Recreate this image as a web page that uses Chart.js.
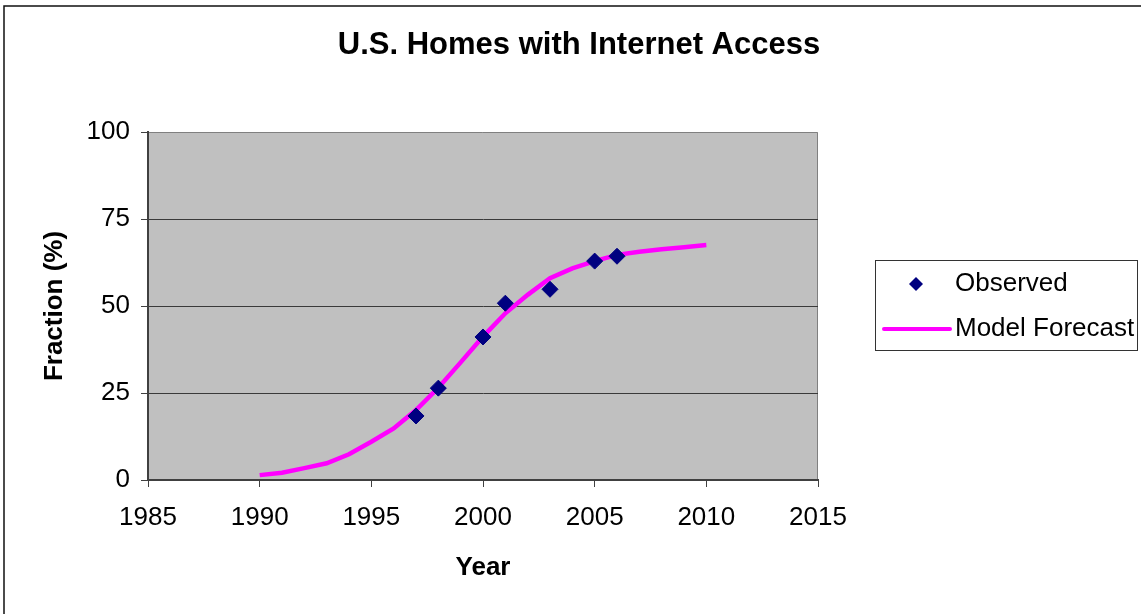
<!DOCTYPE html>
<html>
<head>
<meta charset="utf-8">
<title>U.S. Homes with Internet Access</title>
<script src="https://cdn.jsdelivr.net/npm/chart.js@4.4.0/dist/chart.umd.min.js"></script>
<style>
  body { margin: 0; background: #fff; }
  #wrap { position: relative; width: 1141px; height: 614px; }
</style>
</head>
<body>
<div id="wrap"><canvas id="myChart"></canvas></div>
<script>
  // data
  const forecastYears = [1990, 1991, 1992, 1993, 1994, 1995, 1996, 1997, 1998, 1999, 2000,
                         2001, 2002, 2003, 2004, 2005, 2006, 2007, 2008, 2009, 2010];
  const forecastValues = [1.4, 2.1, 3.4, 4.8, 7.4, 11.0, 14.8, 20.1, 26.5, 33.8, 41.2,
                          47.9, 53.2, 58.0, 60.8, 62.9, 64.7, 65.6, 66.3, 66.9, 67.5];
  const observedYears = [1997, 1998, 2000, 2001, 2003, 2005, 2006];
  const observedValues = [18.4, 26.4, 41.1, 50.8, 54.8, 62.9, 64.3];
  const seriesNames = ['Observed', 'Model Forecast'];
  const chartTitle = 'U.S. Homes with Internet Access';

  const FONT = "'Liberation Sans', Arial, sans-serif";

  function toPoints(xs, ys) {
    return xs.map((x, i) => ({ x: x, y: ys[i] }));
  }

  /* plot background, frame, title and legend box */
  const decorPlugin = {
    id: 'decor',
    beforeDraw(chart) {
      const ctx = chart.ctx;
      const a = chart.chartArea;
      ctx.save();
      ctx.fillStyle = '#c0c0c0';
      ctx.fillRect(a.left, a.top, a.right - a.left, a.bottom - a.top);
      ctx.strokeStyle = '#808080';
      ctx.lineWidth = 1;
      ctx.beginPath();
      ctx.moveTo(a.left, a.top + 0.5);
      ctx.lineTo(a.right - 0.5, a.top + 0.5);
      ctx.lineTo(a.right - 0.5, a.bottom);
      ctx.stroke();
      // outer frame of the chart object
      ctx.strokeStyle = '#111';
      ctx.lineWidth = 1.5;
      ctx.beginPath();
      ctx.moveTo(4, 614);
      ctx.lineTo(4, 6);
      ctx.lineTo(1141, 6);
      ctx.stroke();
      ctx.restore();
    },
    afterDraw(chart) {
      const ctx = chart.ctx;
      const ds = chart.data.datasets;
      ctx.save();
      // title, centred on the whole chart object
      ctx.font = 'bold 31px ' + FONT;
      ctx.fillStyle = '#000';
      ctx.textAlign = 'center';
      ctx.textBaseline = 'middle';
      ctx.fillText(chartTitle, 579, 45);

      ctx.strokeStyle = '#333';
      ctx.lineWidth = 1;
      ctx.strokeRect(875.5, 260.5, 262, 90);
      ctx.font = '26px ' + FONT;
      ctx.textAlign = 'left';
      // observed marker
      ctx.fillStyle = ds[0].backgroundColor;
      ctx.beginPath();
      ctx.moveTo(916, 277);
      ctx.lineTo(923, 284);
      ctx.lineTo(916, 291);
      ctx.lineTo(909, 284);
      ctx.closePath();
      ctx.fill();
      // forecast line sample
      ctx.strokeStyle = ds[1].borderColor;
      ctx.lineWidth = 4;
      ctx.lineCap = 'round';
      ctx.beginPath();
      ctx.moveTo(884, 329);
      ctx.lineTo(950, 329);
      ctx.stroke();
      ctx.fillStyle = '#000';
      ctx.fillText(ds[0].label, 955, 284);
      ctx.fillText(ds[1].label, 955, 329);
      ctx.restore();
    }
  };

  function initChart(target) {
    return new Chart(target, {
      type: 'line',
      data: {
        datasets: [{
          label: seriesNames[0],
          data: toPoints(observedYears, observedValues),
          showLine: false,
          pointStyle: 'rectRot',
          pointRadius: 8,
          borderWidth: 1,
          backgroundColor: '#000080',
          borderColor: '#000080'
        }, {
          label: seriesNames[1],
          data: toPoints(forecastYears, forecastValues),
          borderColor: '#ff00ff',
          backgroundColor: '#ff00ff',
          borderWidth: 4.5,
          pointRadius: 0,
          tension: 0,
          fill: false
        }]
      },
      options: {
        responsive: true,
        maintainAspectRatio: false,
        animation: false,
        layout: { padding: { left: 0, right: 323, top: 132, bottom: 0 } },
        plugins: {
          legend: { display: false },
          tooltip: { enabled: false },
          title: { display: false }
        },
        scales: {
          x: {
            type: 'linear',
            min: 1985,
            max: 2015,
            afterFit(scale) { scale.height = 134; },
            ticks: {
              stepSize: 5,
              color: '#000',
              padding: 15,
              maxRotation: 0,
              font: { family: FONT, size: 26 },
              callback: (v) => String(v)
            },
            grid: { drawOnChartArea: false, drawTicks: true, tickLength: 7, tickColor: '#404040' },
            border: { display: true, color: '#404040', width: 2 },
            title: {
              display: true,
              text: 'Year',
              color: '#000',
              font: { family: FONT, size: 26, weight: 'bold' },
              padding: { top: 0, bottom: 31 }
            }
          },
          y: {
            min: 0,
            max: 100,
            afterFit(scale) { scale.width = 148; },
            ticks: {
              stepSize: 25,
              color: '#000',
              padding: 11,
              font: { family: FONT, size: 26 }
            },
            grid: {
              drawTicks: true,
              tickLength: 7,
              tickColor: '#404040',
              lineWidth: 1,
              color: (c) => (c.tick && (c.tick.value === 100 || c.tick.value === 0)) ? 'rgba(0,0,0,0)' : '#3a3a3a'
            },
            border: { display: true, color: '#404040', width: 2 },
            title: {
              display: true,
              text: 'Fraction (%)',
              color: '#000',
              font: { family: FONT, size: 26, weight: 'bold' },
              padding: { top: 39, bottom: 0 }
            }
          }
        }
      },
      plugins: [decorPlugin]
    });
  }

  document.addEventListener('DOMContentLoaded', () => {
    initChart(document.querySelector('#myChart'));
  });
</script>
</body>
</html>
